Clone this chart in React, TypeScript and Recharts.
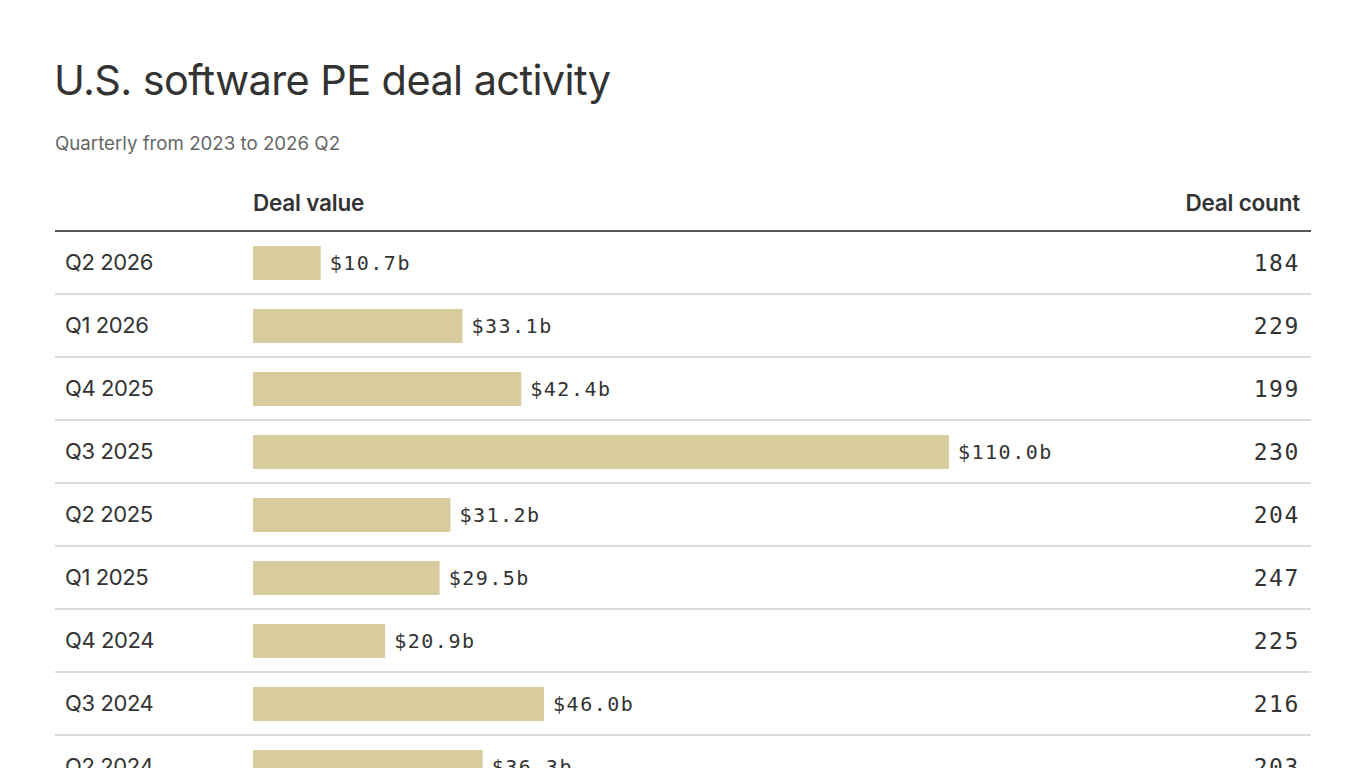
import { BarChart, Bar, XAxis, YAxis, LabelList } from "recharts";

const quarters = [
  "Q2 2026",
  "Q1 2026",
  "Q4 2025",
  "Q3 2025",
  "Q2 2025",
  "Q1 2025",
  "Q4 2024",
  "Q3 2024",
  "Q2 2024",
];
const dealValues = [10.7, 33.1, 42.4, 110.0, 31.2, 29.5, 20.9, 46.0, 36.3];
const dealCounts = [184, 229, 199, 230, 204, 247, 225, 216, 203];

const data = quarters.map((q, i) => ({
  quarter: q,
  value: dealValues[i],
  count: dealCounts[i],
}));

const ROW = 63;
const TOP = 231;
const SANS = "Inter, 'Noto Sans', sans-serif";
const MONO = "'DejaVu Sans Mono', 'Liberation Mono', monospace";

function RowTick(props: any) {
  const { y, payload, index } = props;
  const i = payload?.index ?? index;
  return (
    <g>
      <text
        x={65}
        y={y - 1}
        dominantBaseline="central"
        fontFamily={SANS}
        fontSize={22}
        fill="#333"
        letterSpacing={-0.4}
      >
        {payload.value}
      </text>
      <text
        x={1300}
        y={y}
        textAnchor="end"
        dominantBaseline="central"
        fontFamily={MONO}
        fontSize={23}
        fill="#333"
        letterSpacing={1.6}
      >
        {dealCounts[i]}
      </text>
      <line
        x1={55}
        x2={1311}
        y1={y + ROW / 2}
        y2={y + ROW / 2}
        stroke="#cfcfcf"
        strokeWidth={1.5}
      />
    </g>
  );
}

export default function App() {
  return (
    <div
      style={{
        position: "absolute",
        left: 0,
        top: 0,
        width: 1366,
        height: 800,
        background: "#fff",
        fontFamily: SANS,
        color: "#333",
      }}
    >
      <div
        style={{
          position: "absolute",
          left: 54,
          top: 59,
          fontSize: 41.5,
          lineHeight: "42px",
          letterSpacing: -0.6,
          color: "#333",
        }}
      >
        U.S. software PE deal activity
      </div>
      <div
        style={{
          position: "absolute",
          left: 55,
          top: 134,
          fontSize: 18.7,
          lineHeight: "19px",
          color: "#666",
        }}
      >
        Quarterly from 2023 to 2026 Q2
      </div>
      <div
        style={{
          position: "absolute",
          left: 253,
          top: 192,
          fontSize: 22.5,
          lineHeight: "22px",
          fontWeight: 600,
          letterSpacing: -0.2,
        }}
      >
        Deal value
      </div>
      <div
        style={{
          position: "absolute",
          right: 1366 - 1300,
          top: 192,
          fontSize: 22.5,
          lineHeight: "22px",
          fontWeight: 600,
          letterSpacing: -0.2,
        }}
      >
        Deal count
      </div>
      <div
        style={{
          position: "absolute",
          left: 55,
          top: TOP - 1,
          width: 1256,
          height: 2,
          background: "#555",
        }}
      />
      <div style={{ position: "absolute", left: 0, top: 0 }}>
        <BarChart
          width={1366}
          height={TOP + quarters.length * ROW}
          data={data}
          layout="vertical"
          margin={{ top: TOP, right: 417, bottom: 0, left: 0 }}
          barSize={34}
        >
          <XAxis type="number" domain={[0, 110]} hide />
          <YAxis
            type="category"
            dataKey="quarter"
            width={253}
            axisLine={false}
            tickLine={false}
            tick={RowTick}
            interval={0}
          />
          <Bar dataKey="value" fill="#d8cc9f" isAnimationActive={false}>
            <LabelList
              dataKey="value"
              position="right"
              offset={9}
              formatter={(v: any) => `$${Number(v).toFixed(1)}b`}
              style={{
                fontFamily: MONO,
                fontSize: 20,
                fill: "#333",
                letterSpacing: 1.5,
              }}
            />
          </Bar>
        </BarChart>
      </div>
    </div>
  );
}
